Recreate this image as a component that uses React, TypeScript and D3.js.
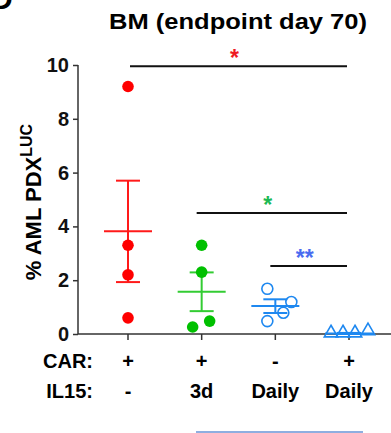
import React, { useEffect, useRef } from "react";
import * as d3 from "d3";

// groups left to right
const groups = ["CAR+ IL15-", "CAR+ IL15 3d", "CAR- IL15 daily", "CAR+ IL15 daily"];
const carLabels = ["+", "+", "-", "+"];
const il15Labels = ["-", "3d", "Daily", "Daily"];

// % AML PDX-LUC in bone marrow, per mouse
const redValues = [9.2, 3.3, 2.2, 0.6];
const greenValues = [3.3, 2.3, 0.26, 0.48];
const circleValues = [1.68, 1.19, 0.79, 0.48];
const triangleValues = [0.0, 0.0, 0.0, 0.08];

// mean and SEM per group
const means = [3.82, 1.57, 1.04, 0.02];
const semHi = [5.7, 2.29, 1.29, 0.04];
const semLo = [1.93, 0.85, 0.78, 0.0];

// horizontal scatter of dots inside a group (px)
const jitters = [
  [0, 0, 0, 0],
  [0, 0, -9, 8],
  [-8, 16, 8, -8],
  [-18, -6, 6, 19],
];

const yTicks = [0, 2, 4, 6, 8, 10];

// significance brackets: from group, to group, y value, label
const brackets = [
  { from: 0, to: 3, y: 9.95, label: "*", color: "#ee1c24" },
  { from: 1, to: 3, y: 4.5, label: "*", color: "#1db954" },
  { from: 2, to: 3, y: 2.53, label: "**", color: "#4a6cf0" },
];

const colors = ["#ff0000", "#00c000", "#1e88f0", "#1e88f0"];
const barColors = ["#ff1a1a", "#33cc33", "#1e88f0", "#1e88f0"];

export default function App() {
  const ref = useRef<SVGSVGElement>(null);

  useEffect(() => {
    const svg = d3.select(ref.current);
    svg.selectAll("*").remove();

    const font = "'Liberation Sans', Arial, sans-serif";
    const y = d3.scaleLinear().domain([0, 10]).range([334, 65]);
    const x = d3.scalePoint<string>().domain(groups).range([128, 349]);

    const g = svg.append("g");

    // panel letter, cut by the edge
    g.append("text")
      .attr("x", -9).attr("y", 9)
      .style("font-family", font).style("font-weight", "bold").style("font-size", "30px")
      .text("D");

    g.append("text")
      .attr("transform", "translate(238,29) scale(1.16,1)")
      .attr("text-anchor", "middle")
      .style("font-family", font).style("font-weight", "bold").style("font-size", "22px")
      .text("BM (endpoint day 70)");

    // y axis
    const yAxis = g.append("g").attr("transform", "translate(78,0)")
      .call(d3.axisLeft(y).tickValues(yTicks).tickSize(5).tickPadding(4).tickFormat(d3.format("d")));
    yAxis.select(".domain").attr("stroke", "#333").attr("stroke-width", 1.5).attr("d", `M0,${y(10)}V${y(0)}`);
    yAxis.selectAll(".tick line").attr("stroke", "#333").attr("stroke-width", 1.5);
    yAxis.selectAll(".tick text")
      .style("font-family", font).style("font-weight", "bold").style("font-size", "20px").attr("fill", "#111");

    // x axis
    g.append("line").attr("x1", 78).attr("x2", 391).attr("y1", y(0)).attr("y2", y(0))
      .attr("stroke", "#333").attr("stroke-width", 1.5);
    g.selectAll(".xtick").data(groups).join("line")
      .attr("class", "xtick")
      .attr("x1", d => x(d)!).attr("x2", d => x(d)!)
      .attr("y1", y(0)).attr("y2", y(0) + 6)
      .attr("stroke", "#333").attr("stroke-width", 1.5);

    // y label
    const yl = g.append("text")
      .attr("transform", "translate(41,202) rotate(-90)")
      .attr("text-anchor", "middle")
      .style("font-family", font).style("font-weight", "bold").style("font-size", "22px");
    yl.append("tspan").text("% AML PDX");
    yl.append("tspan").attr("dy", -9).style("font-size", "16px").text("LUC");

    // mean and SEM bars
    groups.forEach((grp, i) => {
      const cx = x(grp)!;
      const c = barColors[i];
      const bar = g.append("g").attr("stroke", c).attr("stroke-width", 2);
      bar.append("line").attr("x1", cx - 24).attr("x2", cx + 24).attr("y1", y(means[i])).attr("y2", y(means[i]));
      bar.append("line").attr("x1", cx).attr("x2", cx).attr("y1", y(semHi[i])).attr("y2", y(semLo[i]));
      [semHi[i], semLo[i]].forEach(v => {
        bar.append("line").attr("x1", cx - 12).attr("x2", cx + 12).attr("y1", y(v)).attr("y2", y(v));
      });
    });

    // dots
    const series = [redValues, greenValues, circleValues, triangleValues];
    series.forEach((vals, i) => {
      const cx = x(groups[i])!;
      const pts = vals.map((v, j) => ({ px: cx + jitters[i][j], py: y(v) }));
      const cls = `dot${i}`;
      if (i < 2) {
        g.selectAll(`.${cls}`).data(pts).join("circle").attr("class", cls)
          .attr("cx", d => d.px).attr("cy", d => d.py).attr("r", 5.8).attr("fill", colors[i]);
      } else if (i === 2) {
        g.selectAll(`.${cls}`).data(pts).join("circle").attr("class", cls)
          .attr("cx", d => d.px).attr("cy", d => d.py).attr("r", 5.5)
          .attr("fill", "none").attr("stroke", colors[i]).attr("stroke-width", 1.6);
      } else {
        const tri = d3.symbol().type(d3.symbolTriangle).size(78);
        g.selectAll(`.${cls}`).data(pts).join("path").attr("class", cls)
          .attr("d", tri)
          .attr("transform", d => `translate(${d.px},${d.py - 1})`)
          .attr("fill", "none").attr("stroke", colors[i]).attr("stroke-width", 1.6);
      }
    });

    // significance brackets
    brackets.forEach(b => {
      const x1 = x(groups[b.from])! + (b.from === 0 ? 2 : -5);
      const x2 = x(groups[b.to])! - 2;
      const by = y(b.y);
      g.append("line").attr("x1", x1).attr("x2", x2).attr("y1", by).attr("y2", by)
        .attr("stroke", "#111").attr("stroke-width", 2);
      g.append("text")
        .attr("x", (x1 + x2) / 2 - 4).attr("y", by)
        .attr("text-anchor", "middle")
        .style("font-family", font).style("font-weight", "bold").style("font-size", "23px")
        .attr("fill", b.color)
        .text(b.label);
    });

    // condition table below the axis
    const rows = [
      { key: "car", name: "CAR:", labels: carLabels, yy: 368 },
      { key: "il15", name: "IL15:", labels: il15Labels, yy: 398 },
    ];
    rows.forEach(r => {
      g.append("text").attr("x", 93).attr("y", r.yy).attr("text-anchor", "end")
        .style("font-family", font).style("font-weight", "bold").style("font-size", "20px")
        .text(r.name);
      g.selectAll(`.row-${r.key}`).data(r.labels).join("text")
        .attr("class", `row-${r.key}`)
        .attr("x", (d, i) => x(groups[i])!)
        .attr("y", r.yy)
        .attr("text-anchor", "middle")
        .style("font-family", font).style("font-weight", "bold").style("font-size", "20px")
        .text(d => d);
    });

    // underline of the daily-IL15 groups
    g.append("line").attr("x1", 196).attr("x2", 363).attr("y1", 432).attr("y2", 432)
      .attr("stroke", "#8eaee0").attr("stroke-width", 2);
  }, []);

  return (
    <svg ref={ref} width={391} height={433}
      style={{ position: "absolute", left: 0, top: 0, background: "#fff" }} />
  );
}
